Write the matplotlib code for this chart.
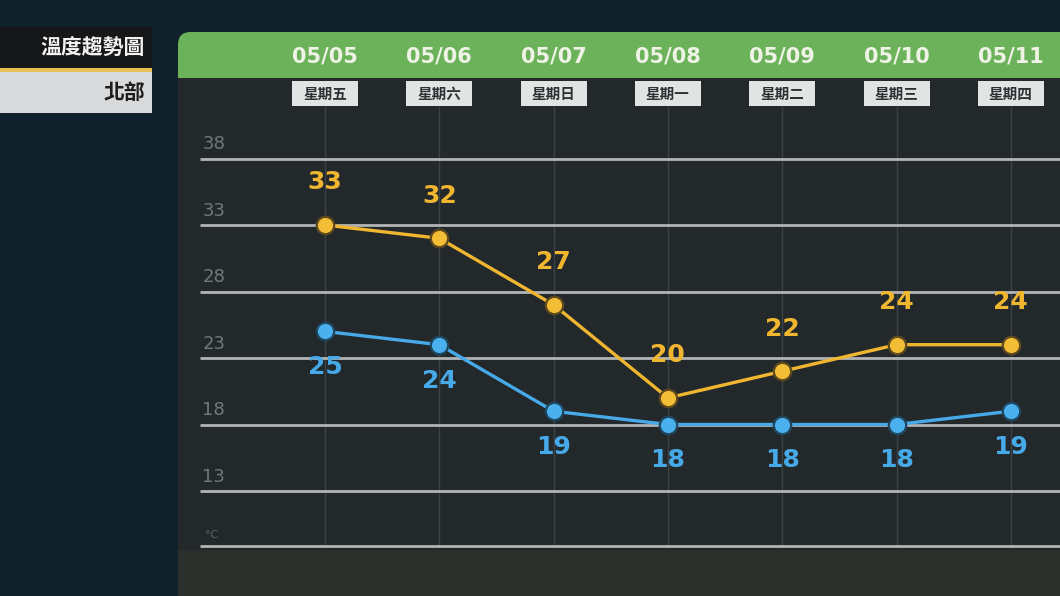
import matplotlib
matplotlib.use("Agg")
import matplotlib.pyplot as plt
from matplotlib.patches import FancyBboxPatch, Rectangle

plt.rcParams["font.family"] = ["Noto Sans CJK TC", "DejaVu Sans"]
NUM_FONT = ["DejaVu Sans"]

# data
dates = ["05/05", "05/06", "05/07", "05/08", "05/09", "05/10", "05/11"]
weekdays = ["星期五", "星期六", "星期日", "星期一", "星期二", "星期三", "星期四"]
highs = [33, 32, 27, 20, 22, 24, 24]
lows = [25, 24, 19, 18, 18, 18, 19]
yticks = [13, 18, 23, 28, 33, 38]
title = "溫度趨勢圖"
region = "北部"

W, H = 1060, 596
fig = plt.figure(figsize=(W / 100, H / 100), dpi=100, facecolor="#0f222b")


def fx(px):
    return px / W


def fy(py):
    return 1 - py / H


# background panel
fig.patches.append(Rectangle((fx(178), 0), fx(W - 178), fy(78), transform=fig.transFigure,
                             facecolor="#23282b", edgecolor="none", zorder=0))
fig.patches.append(Rectangle((fx(178), 0), fx(W - 178), fy(550), transform=fig.transFigure,
                             facecolor="#2b2f2c", edgecolor="none", zorder=0))
# green header with rounded corner
fig.patches.append(FancyBboxPatch((fx(178), fy(78)), fx(W), fy(32) - fy(78),
                                  boxstyle="round,pad=0,rounding_size=0.012",
                                  transform=fig.transFigure, facecolor="#6cb25a",
                                  edgecolor="none", zorder=1, mutation_aspect=W / H))
fig.patches.append(Rectangle((fx(178), fy(78)), fx(W), fy(60) - fy(78), transform=fig.transFigure,
                             facecolor="#6cb25a", edgecolor="none", zorder=1))

# left title boxes
fig.patches.append(Rectangle((0, fy(68)), fx(152), fy(27) - fy(68), transform=fig.transFigure,
                             facecolor="#151718", edgecolor="none", zorder=1))
fig.patches.append(Rectangle((0, fy(72)), fx(152), fy(68) - fy(72), transform=fig.transFigure,
                             facecolor="#e6bf55", edgecolor="none", zorder=1))
fig.patches.append(Rectangle((0, fy(113)), fx(152), fy(72) - fy(113), transform=fig.transFigure,
                             facecolor="#d9dadb", edgecolor="none", zorder=1))
fig.text(fx(145), fy(48), title, ha="right", va="center", color="#f2f2f2",
         fontsize=15, fontweight="bold")
fig.text(fx(145), fy(92), region, ha="right", va="center", color="#1e1e1e",
         fontsize=15, fontweight="bold")

# data axes: x index 0 -> 325px, step 114.3px; 33C -> 225px, 13.3px per degree
x0, dx = 325, 114.3
y33, dy = 225, 13.3
ax_l, ax_r, ax_t, ax_b = 178, W, 107, 548
ax = fig.add_axes([fx(ax_l), fy(ax_b), fx(ax_r - ax_l), fy(ax_t) - fy(ax_b)])
ax.set_zorder(5)
ax.set_facecolor("none")
ax.set_xlim((ax_l - x0) / dx, (ax_r - x0) / dx)
ax.set_ylim(33 - (ax_b - y33) / dy, 33 + (y33 - ax_t) / dy)
ax.axis("off")

xs = list(range(len(dates)))
grid_x0 = (200 - x0) / dx
xmax = ax.get_xlim()[1]

for x in xs:
    ax.axvline(x, color="#3b4246", lw=1, zorder=1)
for t in yticks:
    ax.hlines(t, grid_x0, xmax, color="#b2b4b5", lw=2, zorder=2)
    ax.text(grid_x0 + 0.02, t + 0.4, str(t), ha="left", va="bottom",
            color="#72787c", fontsize=13, family=NUM_FONT)
ax.hlines(ax.get_ylim()[0] + 0.15, grid_x0, xmax, color="#b2b4b5", lw=2, zorder=2,
          clip_on=False)
ax.text(grid_x0 + 0.04, ax.get_ylim()[0] + 0.6, "°C", ha="left", va="bottom",
        color="#5e6468", fontsize=8, family=NUM_FONT)

hi_c, lo_c = "#f0b630", "#47aae8"
ax.plot(xs, highs, color=hi_c, lw=2.4, marker="o", ms=12.5, mfc="#f3bd36",
        mec="#5e4a1e", mew=1.6, zorder=4)
ax.plot(xs, lows, color=lo_c, lw=2.4, marker="o", ms=12.5, mfc="#4bb0ee",
        mec="#1f4860", mew=1.6, zorder=4)
for x, h, l in zip(xs, highs, lows):
    ax.text(x, h + 3.2, str(h), ha="center", va="center", color=hi_c,
            fontsize=18, fontweight="bold", family=NUM_FONT, zorder=5)
    ax.text(x, l - 2.7, str(l), ha="center", va="center", color=lo_c,
            fontsize=18, fontweight="bold", family=NUM_FONT, zorder=5)

# header labels
for x, d, wd in zip(xs, dates, weekdays):
    px = x0 + x * dx
    fig.text(fx(px), fy(56), d, ha="center", va="center", color="#eef3e6",
             fontsize=15, fontweight="bold", family=NUM_FONT, zorder=3)
    fig.patches.append(Rectangle((fx(px - 33), fy(106)), fx(66), fy(81) - fy(106),
                                 transform=fig.transFigure, facecolor="#e2e3e3",
                                 edgecolor="none", zorder=2))
    fig.text(fx(px), fy(93.5), wd, ha="center", va="center", color="#2e3133",
             fontsize=10.5, fontweight="bold", zorder=3)

fig.savefig("out.png", dpi=100, facecolor=fig.get_facecolor())
